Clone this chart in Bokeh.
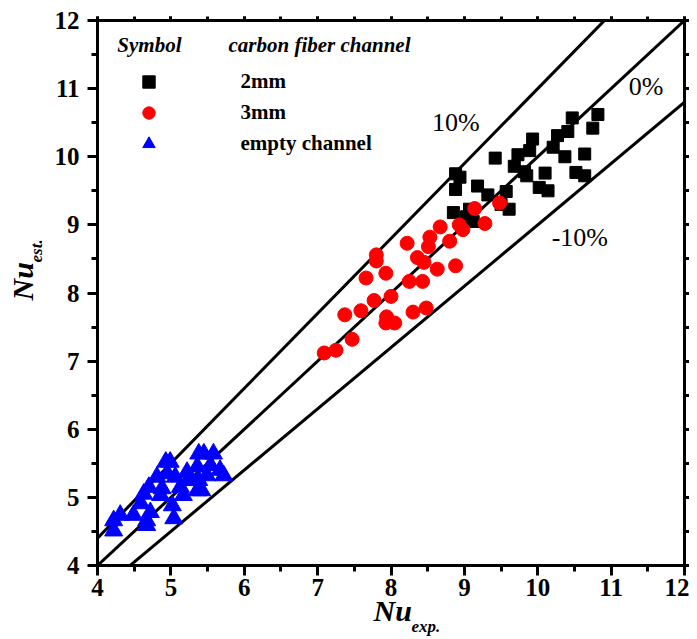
from bokeh.plotting import figure
from bokeh.models import (Range1d, LinearAxis, Label, Legend, LegendItem, Title,
                          SingleIntervalTicker, CustomJSTickFormatter)
from bokeh.embed import file_html
from bokeh.resources import INLINE

# ---------------- data ----------------
black_x = [8.88, 8.94, 8.88, 8.85, 9.07, 9.12, 9.18, 9.32, 9.42, 9.57, 9.61, 9.50,
           9.68, 9.73, 9.82, 9.85, 9.89, 9.93, 10.10, 10.02, 10.14, 10.21, 10.27,
           10.41, 10.37, 10.47, 10.64, 10.52, 10.64, 10.75, 10.82, 9.03]
black_y = [9.75, 9.70, 9.52, 9.18, 9.23, 9.05, 9.57, 9.44, 9.98, 9.49, 9.23, 9.30,
           9.86, 10.03, 9.78, 9.72, 10.09, 10.26, 9.76, 9.55, 9.50, 10.14, 10.31,
           10.37, 10.00, 10.57, 10.04, 9.77, 9.72, 10.42, 10.62, 9.12]

red_x = [7.09, 7.25, 7.47, 7.37, 7.59, 7.77, 8.00, 7.94, 7.93, 8.05, 8.30, 8.48,
         7.66, 7.93, 7.80, 7.80, 8.25, 8.43, 8.22, 8.36, 8.45, 8.63, 8.88, 8.53,
         8.51, 8.67, 8.80, 8.93, 8.98, 9.14, 9.28, 9.48]
red_y = [7.12, 7.16, 7.32, 7.68, 7.74, 7.89, 7.95, 7.65, 7.56, 7.56, 7.72, 7.78,
         8.22, 8.29, 8.56, 8.47, 8.17, 8.17, 8.73, 8.52, 8.45, 8.35, 8.40, 8.82,
         8.68, 8.97, 8.76, 9.00, 8.93, 9.24, 9.02, 9.32]

blue_x = [4.22, 4.31, 4.22, 4.49, 4.59, 4.63, 4.70, 4.67, 4.72, 4.81, 4.88, 4.93,
          4.99, 4.95, 5.06, 4.86, 5.02, 5.04, 5.13, 5.22, 5.24, 5.36, 5.38, 5.45,
          5.36, 5.38, 5.58, 5.54, 5.67, 5.72, 5.42, 5.49, 5.17, 4.67]
blue_y = [4.66, 4.74, 4.51, 4.74, 4.91, 5.05, 5.15, 4.59, 4.78, 5.30, 5.13, 5.52,
          5.52, 5.35, 5.30, 5.03, 4.88, 4.69, 5.15, 5.37, 5.25, 5.10, 5.64, 5.64,
          5.45, 5.25, 5.64, 5.47, 5.40, 5.32, 5.10, 5.32, 5.03, 4.66]

series_labels = ["2mm", "3mm", "empty channel"]
line_x = [4, 12]
line_slopes = [1.1, 1.0, 0.9]
line_labels = ["10%", "0%", "-10%"]

SERIF = "Liberation Serif"

p = figure(frame_width=587, frame_height=545, output_backend="svg",
           toolbar_location=None,
           x_range=Range1d(4, 12), y_range=Range1d(4, 12),
           min_border_left=97, min_border_right=5, min_border_top=20,
           min_border_bottom=72, background_fill_color="white",
           border_fill_color="white")
p.grid.visible = False
p.outline_line_color = "black"
p.outline_line_width = 3

def style_axis(ax, labels=True, tick_out=10, minor_out=6):
    ax.ticker = SingleIntervalTicker(interval=1, num_minor_ticks=2)
    ax.axis_line_width = 3
    ax.axis_line_color = "black"
    ax.major_tick_line_width = 3
    ax.minor_tick_line_width = 3
    ax.major_tick_in = 0
    ax.minor_tick_in = 0
    ax.major_tick_out = tick_out
    ax.minor_tick_out = minor_out
    if labels:
        ax.major_label_text_font = SERIF
        ax.major_label_text_font_style = "bold"
        ax.major_label_text_font_size = "25px"
        ax.major_label_text_color = "black"
    else:
        ax.formatter = CustomJSTickFormatter(code="return ''")
        ax.major_label_text_font_size = "0px"
        ax.major_label_standoff = 0

style_axis(p.xaxis[0])
style_axis(p.yaxis[0])
p.xaxis[0].major_label_standoff = 3
p.yaxis[0].major_label_standoff = 8

ax_r = LinearAxis()
style_axis(ax_r, labels=False, tick_out=5, minor_out=5)
p.add_layout(ax_r, "right")
ax_t = LinearAxis()
style_axis(ax_t, labels=False, tick_out=4, minor_out=4)
p.add_layout(ax_t, "above")

# reference lines
for k in line_slopes:
    p.line(line_x, [k * v for v in line_x], line_color="black", line_width=3)

r_black = p.scatter(black_x, black_y, marker="square", size=12, color="black")
r_red = p.scatter(red_x, red_y, marker="circle", size=14, color="red")
r_blue = p.scatter(blue_x, blue_y, marker="triangle", size=18, color="blue")

legend = Legend(items=[LegendItem(label=series_labels[0], renderers=[r_black]),
                       LegendItem(label=series_labels[1], renderers=[r_red]),
                       LegendItem(label=series_labels[2], renderers=[r_blue])],
                location=(35.5, 406.5), padding=0, margin=0, spacing=0,
                glyph_width=31, glyph_height=31, label_height=31,
                label_standoff=77, border_line_color=None,
                background_fill_alpha=0,
                label_text_font=SERIF, label_text_font_style="bold",
                label_text_font_size="21px", label_text_color="black")
p.add_layout(legend)

def add_label(x, y, text, size, style="normal", baseline="alphabetic"):
    p.add_layout(Label(x=x, y=y, text=text,
                       text_font=SERIF, text_font_size=size,
                       text_font_style=style, text_color="black",
                       text_align="left", text_baseline=baseline))

add_label(4.27, 11.64, "Symbol", "21px", "bold italic")
add_label(5.785, 11.64, "carbon fiber channel", "21px", "bold italic")

# percent labels
add_label(8.56, 10.5, line_labels[0], "26px", baseline="middle")
add_label(11.24, 11.03, line_labels[1], "26px", baseline="middle")
add_label(10.19, 8.82, line_labels[2], "26px", baseline="middle")

# axis titles (main text + subscript) as side-panel titles
def add_title(text, side, size, offset, standoff, valign):
    t = Title(text=text, align="left", offset=offset, standoff=standoff,
              vertical_align=valign, text_font=SERIF, text_font_size=size,
              text_font_style="bold italic", text_color="black")
    p.add_layout(t, side)

add_title("Nu", "below", "30px", 276, -13, "bottom")
add_title("exp.", "below", "17px", 314, -7, "top")
add_title("est.", "left", "17px", 303, 7, "top")
add_title("Nu", "left", "30px", 265, -31, "bottom")

open("out.html", "w").write(file_html(p, INLINE))
